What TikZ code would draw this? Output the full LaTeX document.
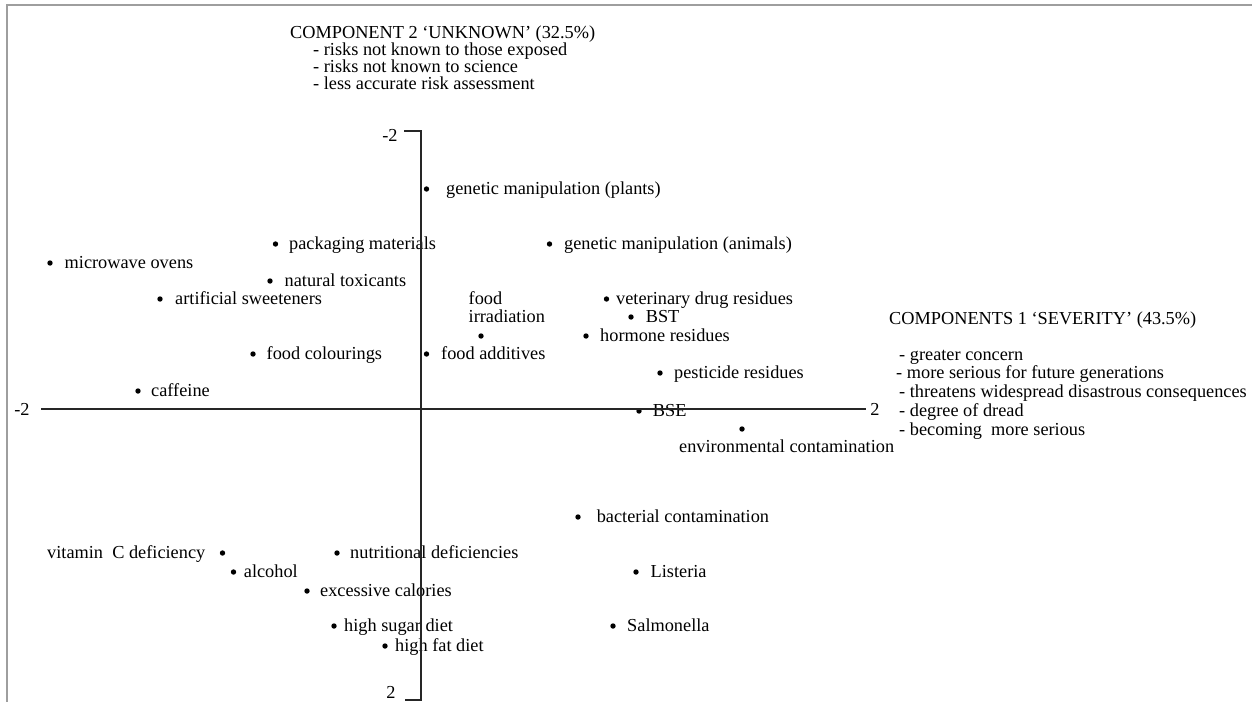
\documentclass[tikz,border=0pt]{standalone}
\usepackage{fontspec}
\setmainfont{Liberation Serif}
\begin{document}
\begin{tikzpicture}[x=1pt,y=-1pt,
    lbl/.style={anchor=mid west,inner sep=0pt,yshift=-3pt,font=\fontsize{18.3}{21}\selectfont,text=black},
    tick/.style={anchor=mid,inner sep=0pt,yshift=-3pt,font=\fontsize{18.3}{21}\selectfont},
    dot/.style={circle,fill=black,inner sep=0pt,minimum size=5.4pt},
    axisline/.style={line width=1.3pt,draw=black!85},
    frameline/.style={line width=1.4pt,draw=black!38}]
\useasboundingbox (0,0) rectangle (1252,702);

% page frame (top and left edges)
\draw[frameline] (1252,5) -- (7,5) -- (7,702);

% dot with its label: name, dot x, label x, y, text
\newcommand\riskitem[5]{%
  \node[dot] (#1-d) at (#2,#4) {};
  \node[lbl] (#1) at (#3,#4) {#5};}

% component 2 heading
\node[lbl] (c2) at (290,33) {COMPONENT 2 `UNKNOWN' (32.5\%)};
\node[lbl] (c2a) at (313,50) {- risks not known to those exposed};
\node[lbl] (c2b) at (313,67) {- risks not known to science};
\node[lbl] (c2c) at (313,84) {- less accurate risk assessment};

% component 1 heading
\node[lbl] (c1) at (889,319) {COMPONENTS 1 `SEVERITY' (43.5\%)};
\node[lbl] (c1a) at (899,355) {- greater concern};
\node[lbl] (c1b) at (896,373) {- more serious for future generations};
\node[lbl] (c1c) at (899,392) {- threatens widespread disastrous consequences};
\node[lbl] (c1d) at (899,411) {- degree of dread};
\node[lbl] (c1e) at (899,430) {- becoming\ \ more serious};

% plotted risks
\riskitem{gmp}{426.5}{446}{189}{genetic manipulation (plants)}
\riskitem{pack}{275.5}{289}{244}{packaging materials}
\riskitem{gma}{549.5}{564}{244}{genetic manipulation (animals)}
\riskitem{micro}{50}{64.5}{263}{microwave ovens}
\riskitem{ntox}{270}{284.5}{281}{natural toxicants}
\riskitem{asw}{160}{175}{299}{artificial sweeteners}
\riskitem{vet}{606.5}{616}{299}{veterinary drug residues}
\riskitem{bst}{631}{645.6}{317}{BST}
\riskitem{horm}{586}{600}{336}{hormone residues}
\riskitem{fcol}{253}{266.5}{354}{food colourings}
\riskitem{fadd}{426.5}{441}{354}{food additives}
\riskitem{pest}{660}{674}{373}{pesticide residues}
\riskitem{caff}{138}{151}{391}{caffeine}
\riskitem{bse}{639}{652.7}{411}{BSE}
\riskitem{bact}{578}{596.6}{517}{bacterial contamination}
\riskitem{nutr}{337}{350}{553}{nutritional deficiencies}
\riskitem{alc}{233.5}{243.7}{572}{alcohol}
\riskitem{list}{636}{650.5}{572}{Listeria}
\riskitem{excal}{307}{320}{591}{excessive calories}
\riskitem{sugar}{334}{344}{626}{high sugar diet}
\riskitem{salm}{613}{627}{626}{Salmonella}
\riskitem{fat}{385}{395}{646}{high fat diet}

% items whose label is not beside the dot
\node[lbl] (irr1) at (468.5,299) {food};
\node[lbl] (irr2) at (468.5,317) {irradiation};
\node[dot] (irr-d) at (481,336) {};
\node[dot] (env-d) at (742,429) {};
\node[lbl] (env) at (679,447) {environmental contamination};
\node[dot] (vitc-d) at (222.5,553) {};
\node[lbl] (vitc) at (47,553) {vitamin\ \ C deficiency};

% axes
\coordinate (yt) at (404,131);
\coordinate (ytop) at (421,131);
\coordinate (ybot) at (421,700);
\coordinate (yb) at (405,700);
\coordinate (xl) at (41,409);
\coordinate (xr) at (866,409);
\draw[axisline] (yt) -- (ytop) -- (ybot) -- (yb);
\draw[axisline] (xl) -- (xr);
\node[tick] (ym) at (390,136) {-2};
\node[tick] (yp) at (391,693.5) {2};
\node[tick] (xm) at (22,410) {-2};
\node[tick] (xp) at (875,410) {2};
\end{tikzpicture}
\end{document}
